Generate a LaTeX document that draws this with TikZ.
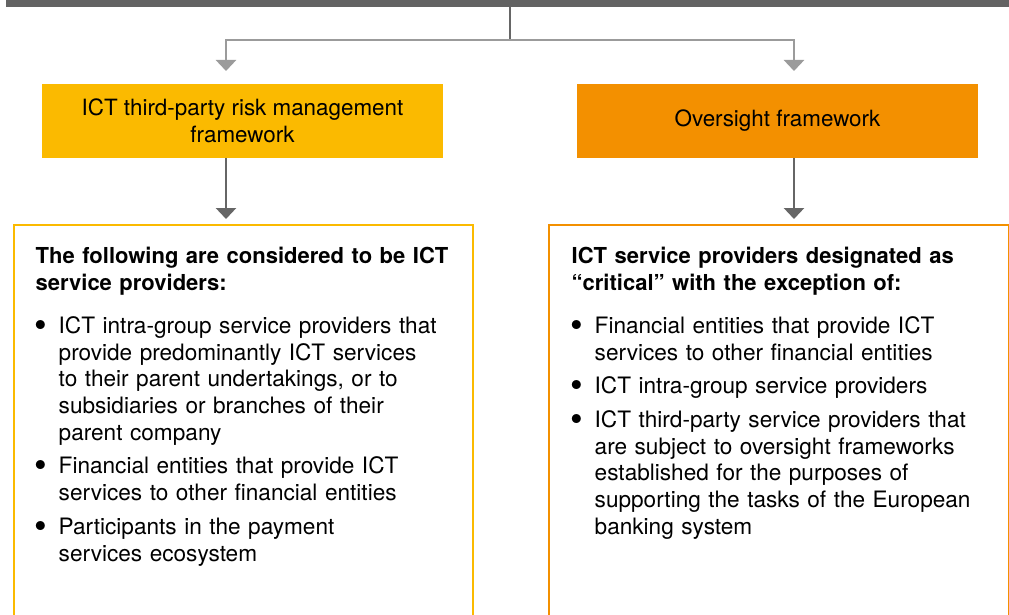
\documentclass[tikz,border=0pt]{standalone}
\usepackage{graphicx}
\usepackage{fontspec}
\setmainfont{TeX Gyre Heros}
\usetikzlibrary{arrows.meta}

\definecolor{bargray}{HTML}{636363}
\definecolor{stemgray}{HTML}{666666}
\definecolor{branchgray}{HTML}{9B9B9B}
\definecolor{ictyellow}{HTML}{FBBA00}
\definecolor{ictorange}{HTML}{F39000}

% one bullet of a provider list
\newcommand{\provitem}[1]{\par\vspace{7pt}\hangindent=23pt\hangafter=0\noindent\llap{\raisebox{-4pt}{\scalebox{1.6}{\textbullet}}\hspace{12pt}}#1\par}
% bold list heading
\newcommand{\provhead}[1]{\noindent{\fontsize{22}{26.7}\selectfont\bfseries #1}\par\vspace{9.5pt}}

\begin{document}
\begin{tikzpicture}[x=1pt, y=-1pt,
    headbox/.style={minimum width=401pt, minimum height=74pt, inner sep=0pt, align=center, font=\fontsize{22.4}{27}\selectfont},
    listbox/.style={draw, line width=2.7pt, minimum height=420pt, inner sep=0pt, anchor=north west},
    listtext/.style={anchor=north west, inner sep=0pt, text width=440pt, font=\fontsize{22.6}{26.7}\selectfont},
    flow/.style={line width=2.7pt, -{Triangle[width=20pt,length=11pt]}}]
    \useasboundingbox (0,0) rectangle (1009,615);
    \clip (0,0) rectangle (1009,615);

    % Top bar
    \node[fill=bargray, minimum width=1003pt, minimum height=7pt, inner sep=0pt, anchor=north west] (bar) at (6,0) {};

    % Framework boxes
    \node[headbox, fill=ictyellow] (tprm) at (242.5,121) {ICT third-party risk management\\framework};
    \node[headbox, fill=ictorange] (oversight) at (777.5,121) {Oversight framework};

    % Provider boxes (open at the bottom)
    \node[listbox, draw=ictyellow, minimum width=459pt] (tprmlist) at (12.5,223.5) {};
    \node[listbox, draw=ictorange, minimum width=460pt] (oversightlist) at (547.5,223.5) {};

    % Connectors
    \coordinate (split) at (510,40);
    \coordinate (lefttip) at (226,71);
    \coordinate (righttip) at (794,71);
    \draw[line width=2.5pt, stemgray] (bar.south -| split) -- (split);
    \draw[flow, branchgray] (split) -| (lefttip);
    \draw[flow, branchgray] (split) -| (righttip);
    \draw[flow, stemgray, shorten >=4.5pt] (tprm.south -| lefttip) -- (tprmlist.north -| lefttip);
    \draw[flow, stemgray, shorten >=4.5pt] (oversight.south -| righttip) -- (oversightlist.north -| righttip);

    % List texts
    \node[listtext] (tprmtext) at ([shift={(23,23.5)}]tprmlist.north west) {
        \provhead{The following are considered to be ICT\\service providers:}
        \provitem{ICT intra-group service providers that\newline provide predominantly ICT services\newline to their parent undertakings, or to\newline subsidiaries or branches of their\newline parent company}
        \provitem{Financial entities that provide ICT\newline services to other financial entities}
        \provitem{Participants in the payment\newline services ecosystem}};
    \node[listtext] (oversighttext) at ([shift={(24,23.5)}]oversightlist.north west) {
        \provhead{ICT service providers designated as\\“critical” with the exception of:}
        \provitem{Financial entities that provide ICT\newline services to other financial entities}
        \provitem{ICT intra-group service providers}
        \provitem{ICT third-party service providers that\newline are subject to oversight frameworks\newline established for the purposes of\newline supporting the tasks of the European\newline banking system}};
\end{tikzpicture}
\end{document}
